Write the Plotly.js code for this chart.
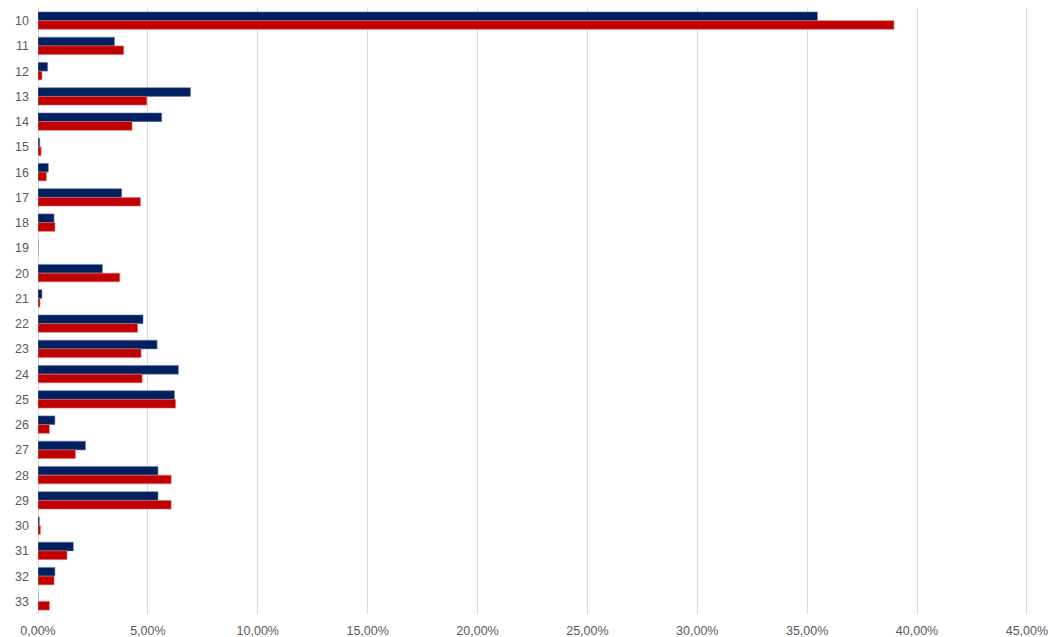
<!DOCTYPE html>
<html>
<head>
<meta charset="utf-8">
<script src="https://cdn.plot.ly/plotly-3.0.1.min.js"></script>
<style>html,body{margin:0;padding:0;background:#fff;}#chart{width:1048px;height:637px;}</style>
</head>
<body>
<div id="chart"></div>
<script>
const categories = ['10','11','12','13','14','15','16','17','18','19','20','21','22','23','24','25','26','27','28','29','30','31','32','33'];
const seriesBlue = [35.47,3.48,0.44,6.94,5.63,0.08,0.47,3.81,0.73,0,2.93,0.18,4.78,5.42,6.39,6.21,0.77,2.16,5.46,5.46,0.06,1.61,0.77,0];
const seriesRed  = [38.95,3.90,0.18,4.95,4.28,0.14,0.38,4.66,0.77,0,3.72,0.09,4.53,4.69,4.74,6.26,0.52,1.70,6.06,6.06,0.11,1.32,0.73,0.52];
const xTicks = [0,5,10,15,20,25,30,35,40,45];
const xTickText = xTicks.map(v => v.toFixed(2).replace('.', ',') + '%');

const traces = [
  {type:'bar', orientation:'h', name:'Serie 1', y:categories, x:seriesBlue,
   marker:{color:'#002060', line:{color:'#6f82a8', width:0.6}}, hoverinfo:'x+y'},
  {type:'bar', orientation:'h', name:'Serie 2', y:categories, x:seriesRed,
   marker:{color:'#C00000', line:{color:'#e07070', width:0.6}}, hoverinfo:'x+y'}
];

const layout = {
  width:1048, height:637,
  margin:{l:38, r:20, t:8, b:23},
  paper_bgcolor:'#fff', plot_bgcolor:'#fff',
  showlegend:false,
  barmode:'group', bargap:0.31, bargroupgap:0,
  separators:',.',
  font:{family:'Liberation Sans, Arial, sans-serif', size:12.5, color:'#595959'},
  xaxis:{range:[0,45.05], tickmode:'array', tickvals:xTicks, ticktext:xTickText,
         showgrid:true, gridcolor:'#d9d9d9', gridwidth:1,
         zeroline:true, zerolinecolor:'#d9d9d9', zerolinewidth:1,
         showline:false, ticks:'', ticklabelstandoff:7, ticklabeloverflow:'allow',
         fixedrange:true},
  yaxis:{type:'category', autorange:'reversed', showgrid:false, zeroline:false,
         showline:false, ticks:'', ticklabelstandoff:8, fixedrange:true}
};

Plotly.newPlot('chart', traces, layout, {displayModeBar:false, staticPlot:true});
</script>
</body>
</html>
